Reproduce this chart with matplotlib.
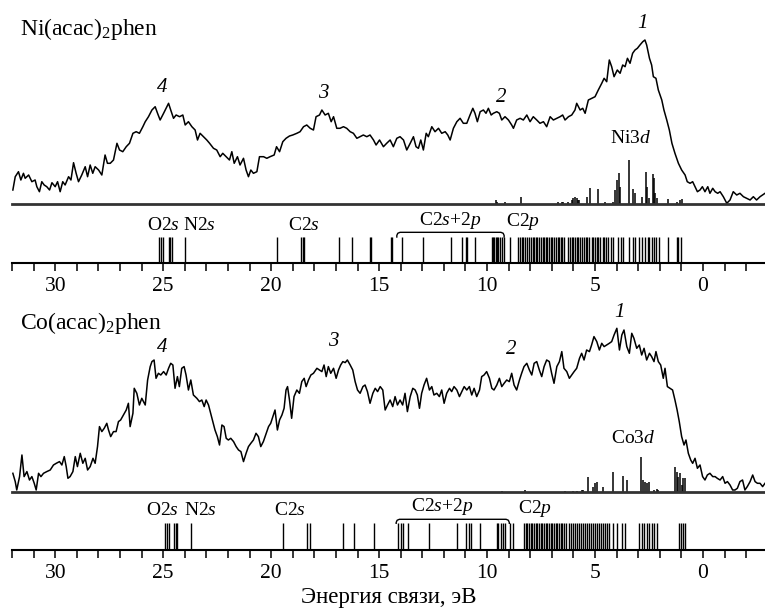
import matplotlib
matplotlib.use('Agg')
import matplotlib.pyplot as plt
from matplotlib.ticker import MultipleLocator

plt.rcParams['font.family'] = ['Liberation Serif', 'DejaVu Serif']
plt.rcParams['mathtext.fontset'] = 'custom'
plt.rcParams['mathtext.rm'] = 'Liberation Serif'
plt.rcParams['mathtext.it'] = 'Liberation Serif:italic'

# ---------------- data (binding energy, eV ; intensity, arb. units) ----------------
ni_E = [31.96, 31.85, 31.70, 31.59, 31.47, 31.39, 31.23, 31.08, 30.93, 30.85,
        30.73, 30.62, 30.51, 30.39, 30.26, 30.15, 30.00, 29.89, 29.77, 29.65,
        29.54, 29.38, 29.27, 29.15, 29.03, 28.92, 28.77, 28.61, 28.50, 28.38,
        28.26, 28.15, 27.99, 27.84, 27.69, 27.58, 27.45, 27.30, 27.14, 27.02,
        26.87, 26.71, 26.56, 26.40, 26.25, 26.10, 25.94, 25.83, 25.68, 25.52,
        25.37, 25.26, 25.14, 24.98, 24.83, 24.75, 24.65, 24.52, 24.40, 24.24,
        24.09, 23.98, 23.83, 23.67, 23.52, 23.41, 23.29, 23.13, 22.98, 22.85,
        22.67, 22.52, 22.36, 22.24, 22.08, 21.93, 21.82, 21.71, 21.56, 21.44,
        21.28, 21.16, 21.05, 20.94, 20.82, 20.66, 20.54, 20.35, 20.20, 20.05,
        19.86, 19.75, 19.61, 19.46, 19.31, 19.15, 19.00, 18.81, 18.66, 18.50,
        18.35, 18.19, 18.04, 17.92, 17.76, 17.65, 17.50, 17.35, 17.22, 17.11,
        16.96, 16.81, 16.65, 16.50, 16.34, 16.19, 16.03, 15.88, 15.73, 15.57,
        15.42, 15.26, 15.14, 14.98,
        14.80, 14.65, 14.49, 14.34, 14.18, 14.03, 13.87, 13.72, 13.56, 13.41,
        13.29, 13.18, 13.07, 12.95, 12.82, 12.72, 12.56, 12.41, 12.25, 12.10,
        11.94, 11.82, 11.71, 11.56, 11.40, 11.25, 11.10, 10.94, 10.79, 10.66,
        10.56, 10.45, 10.32, 10.17, 10.05, 9.94, 9.81, 9.71, 9.55, 9.43,
        9.32, 9.17, 9.01, 8.86, 8.78, 8.63, 8.47, 8.32, 8.16, 8.01,
        7.86, 7.70, 7.55, 7.39, 7.24, 7.08, 6.93, 6.77, 6.62, 6.50,
        6.39, 6.23, 6.08, 5.93, 5.85, 5.69, 5.57, 5.46, 5.31, 5.15,
        5.00, 4.85, 4.69, 4.58, 4.46, 4.34, 4.23, 4.12, 3.97, 3.84,
        3.72, 3.61, 3.50, 3.38, 3.26, 3.15, 3.04, 2.92, 2.79, 2.69,
        2.61, 2.48, 2.38, 2.30, 2.18, 2.07, 1.91, 1.81, 1.68, 1.56,
        1.44, 1.30, 1.14, 0.99, 0.83, 0.73, 0.60, 0.48, 0.37, 0.26,
        0.14, 0.03, -0.09, -0.22, -0.32, -0.45, -0.56, -0.68, -0.79, -0.94,
        -1.10, -1.25, -1.40, -1.56, -1.71, -1.87, -2.02, -2.18, -2.33, -2.48,
        -2.64, -2.87]
ni_I = [14, 27.3, 32.3, 24, 30.7, 25.7, 29, 22.3, 24, 17.3,
        12.3, 22.3, 19, 17.3, 14, 21.3, 17.3, 22.3, 12.3, 22.3,
        19, 27.3, 24, 41.3, 30.7, 22.3, 29, 37.3, 27.3, 39,
        30.7, 37.3, 34, 29, 49, 40.7, 40.7, 44, 60.7, 54,
        52.3, 57.3, 60.7, 70.7, 72.3, 70.7, 77.3, 82.3, 87.3, 94,
        97.3, 90.7, 84, 90.7, 97.3, 100.7, 94, 85.7, 89, 87.3,
        89, 79, 82.3, 77.3, 74, 64, 70.7, 67.3, 64, 60.7,
        55.7, 54, 47.3, 50.7, 47.3, 44, 52.3, 40.7, 47.3, 39,
        45.7, 34, 27.3, 34, 30.7, 32.3, 47.3, 47.3, 45.7, 47.3,
        49, 57.3, 52.3, 62.3, 65.7, 68, 69, 70.7, 72.3, 77.3,
        79, 75.7, 74, 87.3, 89, 94, 89, 90.7, 82.3, 87.3,
        75.7, 75.7, 77.3, 75.7, 72.3, 70.7, 65.7, 67.3, 69, 67.3,
        69, 64, 59, 64,
        57.3, 60.7, 64, 57.3, 65.7, 67.3, 64, 54, 60.7, 67.3,
        57.3, 55.7, 64, 54, 70.7, 67.3, 77.3, 72.3, 75.7, 70.7,
        72.3, 69, 64, 75.7, 82.3, 85.7, 80.7, 80.7, 89, 95.7,
        90.7, 82.3, 92.3, 94, 90.7, 95.7, 89, 90.7, 92.3, 90.7,
        84, 87.3, 84, 79, 75.7, 84, 85.7, 84, 89, 82.3,
        87.3, 84, 80.7, 82.3, 77.3, 87.3, 84, 85.7, 87.3, 89,
        84, 87.3, 89, 94, 100.7, 94, 95.7, 90.7, 104, 105.7,
        107.3, 114, 120.7, 125.7, 122.3, 144, 137.3, 127.3, 134, 130.7,
        139, 137.3, 145.7, 140.7, 150.7, 154, 155.7, 159, 162.3, 164,
        159, 145.7, 139, 127.3, 125.7, 114, 104, 94, 84, 74,
        60.7, 50.7, 40.7, 34, 29, 22.3, 20.7, 22.3, 17.3, 12.3,
        14, 17.3, 12.3, 17.3, 10.7, 15.7, 12.3, 10.7, 12.3, 7.3,
        0.7, 4, 12.3, 9, 10.7, 7.3, 5.7, 4, 7.3, 4,
        7.3, 10.7]

co_E = [31.96, 31.85, 31.78, 31.65, 31.54, 31.44, 31.31, 31.19, 31.08, 30.97,
        30.88, 30.77, 30.66, 30.54, 30.39, 30.23, 30.08, 29.95, 29.80, 29.69,
        29.58, 29.49, 29.41, 29.31, 29.18, 29.07, 28.97, 28.84, 28.72, 28.61,
        28.50, 28.38, 28.25, 28.15, 28.04, 27.95, 27.84, 27.73, 27.61, 27.53,
        27.43, 27.30, 27.18, 27.07, 26.97, 26.84, 26.71, 26.61, 26.53, 26.40,
        26.34, 26.22, 26.10, 25.99, 25.83, 25.72, 25.60, 25.52, 25.42, 25.33,
        25.22, 25.11, 24.98, 24.86, 24.75, 24.65, 24.55, 24.45, 24.34, 24.25,
        24.14, 24.03, 23.94, 23.83, 23.72, 23.60, 23.44, 23.32, 23.21, 23.10,
        23.01, 22.90, 22.82, 22.70, 22.60, 22.49, 22.39, 22.28, 22.18, 22.08,
        21.98, 21.87, 21.74, 21.62, 21.51, 21.40, 21.28, 21.16, 21.05, 20.94,
        20.82, 20.70, 20.59, 20.48, 20.36, 20.23, 20.12, 20.02, 19.92, 19.82,
        19.71, 19.61, 19.50, 19.40, 19.31, 19.24, 19.15, 19.05, 18.94, 18.81,
        18.69, 18.58, 18.47, 18.38, 18.27, 18.16, 18.04, 17.88, 17.76, 17.65,
        17.55, 17.45, 17.35, 17.24, 17.11, 16.99, 16.88, 16.78, 16.68, 16.57,
        16.47, 16.34, 16.22, 16.11, 16.00, 15.88, 15.75, 15.65, 15.54, 15.42,
        15.29, 15.18, 15.07, 14.95,
        14.83, 14.72, 14.61, 14.49, 14.37, 14.26, 14.15, 14.03, 13.91, 13.80,
        13.69, 13.56, 13.44, 13.33, 13.23, 13.13, 13.03, 12.92, 12.80, 12.67,
        12.56, 12.46, 12.33, 12.21, 12.10, 11.99, 11.87, 11.74, 11.64, 11.53,
        11.40, 11.28, 11.17, 11.06, 10.94, 10.82, 10.71, 10.60, 10.48, 10.35,
        10.25, 10.14, 10.02, 9.89, 9.78, 9.68, 9.55, 9.43, 9.32, 9.21,
        9.09, 8.97, 8.86, 8.75, 8.63, 8.50, 8.40, 8.29, 8.16, 8.04,
        7.93, 7.82, 7.70, 7.58, 7.47, 7.36, 7.24, 7.12, 7.01, 6.90,
        6.77, 6.65, 6.54, 6.44, 6.31, 6.19, 6.08, 5.97, 5.85, 5.72,
        5.62, 5.51, 5.39, 5.26, 5.16, 5.05, 4.92, 4.80, 4.69, 4.58,
        4.46, 4.34, 4.23, 4.12, 3.99, 3.87, 3.76, 3.66, 3.53, 3.41,
        3.30, 3.20, 3.07, 2.95, 2.84, 2.73, 2.61, 2.48, 2.38, 2.27,
        2.18, 2.07, 1.96, 1.84, 1.76, 1.65, 1.53, 1.41, 1.30, 1.20,
        1.10, 0.99, 0.88, 0.79, 0.68, 0.57, 0.48, 0.37, 0.26, 0.14,
        0.02, -0.09, -0.20, -0.32, -0.45, -0.56, -0.66, -0.79, -0.91, -1.02,
        -1.13, -1.25, -1.37, -1.48, -1.59, -1.71, -1.83, -1.94, -2.05, -2.18,
        -2.30, -2.41, -2.52, -2.64, -2.76, -2.87]
co_I = [19, 10.7, 2.3, 15.7, 37.3, 15.7, 20.7, 12.3, 15.7, 9,
        2.3, 19, 15.7, 19, 20.7, 22.3, 27.3, 29, 30.7, 27.3,
        35.7, 25.7, 14, 15.7, 20.7, 35.7, 25.7, 39, 29, 34,
        22.3, 25.7, 34, 29, 45.7, 65.7, 60.7, 64, 69, 62.3,
        55.7, 60.7, 60.7, 70.7, 72.3, 77.3, 82.3, 89, 65.7, 79,
        104, 99, 87.3, 94, 87.3, 112.3, 125.7, 130.7, 132.3, 114,
        119, 117.3, 120.7, 117.3, 124, 129, 127.3, 104, 115.7, 105.7,
        124, 125.7, 117.3, 102.3, 112.3, 97.3, 94, 90.7, 92.3, 85.7,
        92.3, 87.3, 80.7, 70.7, 62.3, 55.7, 47.3, 67.3, 65.7, 54,
        52.3, 54, 50.7, 45.7, 42.3, 40.7, 30.7, 39, 45.7, 49,
        52.3, 59, 55.7, 45.7, 50.7, 59, 65.7, 69, 75.7, 82.3,
        62.3, 72.3, 77.3, 84, 102.3, 105.7, 92.3, 74, 95.7, 102.3,
        99, 110.7, 114, 105.7, 112.3, 117.3, 119, 124, 122.3, 120.7,
        127.3, 115.7, 125.7, 119, 124, 114, 122.3, 127.3, 130.7, 129.7,
        132.3, 127.3, 122.3, 110.7, 102.3, 99, 105.7, 107.3, 100.7, 89,
        99, 104, 100.7, 105.7,
        102.3, 82.3, 87.3, 92.3, 85.7, 95.7, 87.3, 92.3, 87.3, 99,
        80.7, 95.7, 104, 102.3, 97.3, 84, 99, 107.3, 114, 102.3,
        105.7, 97.3, 99, 95.7, 102.3, 89, 99, 104, 100.7, 105.7,
        102.3, 95.7, 100.7, 105.7, 102.3, 105.7, 97.3, 104, 95.7, 102.3,
        115.7, 117.3, 120.7, 114, 104, 102.3, 107.3, 114, 105.7, 109,
        112.3, 110.7, 119, 107.3, 102.3, 112.3, 119, 125.7, 129, 122.3,
        117.3, 129, 130.7, 122.3, 115.7, 125.7, 132.3, 130.7, 119, 109,
        125.7, 130.7, 140.7, 124, 120.7, 114, 117.3, 120.7, 124, 134,
        139, 132.3, 142.3, 140.7, 147.3, 155.7, 150.7, 142.3, 149, 145.7,
        147.3, 149, 150.7, 157.3, 164, 142.3, 157.3, 162.3, 145.7, 139,
        159, 154, 144, 147.3, 137.3, 144, 132.3, 139, 135.7, 130.7,
        140.7, 130.7, 127.3, 114, 124, 105.7, 104, 102.3, 92.3, 82.3,
        70.7, 55.7, 47.3, 52.3, 39, 32.3, 29, 34, 24, 27.3,
        15.7, 12.3, 17.3, 19, 15.7, 15.7, 14, 12.3, 15.7, 9,
        10.7, 7.3, 2.3, 2.3, 4, 10.7, 12.3, 2.3, 5.7, 10.7,
        17.3, 10.7, 9, 9, 5.7, 9]

# metal 3d partial contributions (stick spectra)
ni3d_E = [9.58, 9.52, 9.17, 8.44, 6.70, 6.54, 6.50, 6.23, 6.08, 6.00,
          5.93, 5.85, 5.77, 5.73, 5.39, 5.23, 4.85, 4.54, 4.15, 4.07,
          3.97, 3.87, 3.84, 3.43, 3.23, 3.15, 2.84, 2.64, 2.58, 2.48,
          2.33, 2.27, 2.22, 2.14, 1.61, 1.22, 1.06, 0.99]
ni3d_H = [4, 2.3, 2.3, 6.7, 1.7, 1.7, 1.7, 2.3, 4, 5.7,
          7.3, 5.7, 4, 4, 7.3, 15.7, 14.7, 2.3, 2.3, 14,
          24, 30.7, 17.3, 44, 14.7, 10.7, 7.3, 32.3, 17.3, 5.7,
          30, 25.7, 10.7, 5.7, 5, 2.3, 4, 4.7]
co3d_E = [9.32, 8.24, 6.39, 6.00, 5.85, 5.62, 5.54, 5.31, 5.08, 5.00,
          4.92, 4.64, 4.15, 3.69, 3.53, 2.87, 2.76, 2.69, 2.61, 2.48,
          2.27, 2.14, 2.07, 1.30, 1.22, 1.14, 1.06, 0.99, 0.91, 0.83]
co3d_H = [1.3, 2.3, 1.3, 1.3, 1.7, 2.3, 2.3, 15.7, 5, 9,
          10.7, 5.7, 20.7, 16.3, 12.3, 35, 12.3, 10.7, 9, 10.7,
          2.3, 3, 2.3, 25, 20.7, 15.7, 19.7, 7.3, 14, 14]

# calculated one-electron levels
ni_levels = [25.17, 25.11, 25.03, 24.75, 24.68, 24.60, 24.01, 19.71, 18.61, 18.53,
             18.46, 16.88, 16.27, 15.42, 15.37, 14.46, 14.41, 13.95, 12.95, 11.67,
             11.17, 10.97, 10.91, 10.56, 9.78, 9.74, 9.68, 9.61, 9.55, 9.48,
             9.40, 9.32, 9.21, 8.94, 8.55, 8.47, 8.39, 8.32, 8.24, 8.16,
             8.06, 7.98, 7.89, 7.82, 7.75, 7.67, 7.58, 7.50, 7.42, 7.36,
             7.28, 7.21, 7.13, 7.05, 6.98, 6.90, 6.81, 6.73, 6.65, 6.59,
             6.51, 6.44, 6.23, 6.16, 6.08, 6.00, 5.93, 5.85, 5.77, 5.69,
             5.62, 5.51, 5.42, 5.36, 5.26, 5.15, 5.08, 5.00, 4.92, 4.85,
             4.77, 4.64, 4.58, 4.49, 4.38, 4.27, 4.18, 3.92, 3.81, 3.72,
             3.41, 3.26, 3.15, 2.95, 2.84, 2.69, 2.56, 2.48, 2.38, 2.27,
             2.18, 2.05, 1.61, 1.22, 1.14, 1.03]
co_levels = [24.91, 24.83, 24.72, 24.49, 24.41, 24.37, 23.72, 19.46, 18.32, 18.19,
             16.68, 16.14, 15.23, 14.11, 14.00, 13.90, 13.64, 12.67, 11.40, 10.97,
             10.86, 10.76, 10.32, 9.55, 9.48, 9.37, 9.27, 9.17, 8.94, 8.78,
             8.29, 8.21, 8.13, 8.06, 7.98, 7.90, 7.82, 7.75, 7.67, 7.59,
             7.52, 7.44, 7.36, 7.28, 7.21, 7.13, 7.05, 6.98, 6.90, 6.82,
             6.74, 6.67, 6.59, 6.51, 6.44, 6.36, 6.19, 6.10, 6.00, 5.91,
             5.82, 5.73, 5.63, 5.54, 5.45, 5.36, 5.26, 5.17, 5.08, 4.98,
             4.89, 4.80, 4.71, 4.61, 4.52, 4.43, 4.34, 4.15, 3.97, 3.77,
             3.61, 2.95, 2.84, 2.73, 2.61, 2.48, 2.38, 2.27, 2.14, 1.11,
             1.02, 0.91, 0.83]

titles = ["Ni(acac)$_2$phen", "Co(acac)$_2$phen"]
metal_labels = ["Ni3$d$", "Co3$d$"]
peak_names = ["1", "2", "3", "4"]
x_ticks = [30, 25, 20, 15, 10, 5, 0]
x_label = "Энергия связи, эВ"

# ---------------- layout ----------------
W, H = 765, 610
fig = plt.figure(figsize=(W / 100, H / 100), dpi=100)


def box(x0, y_top, x1, y_bot):
    return [x0 / W, 1 - y_bot / H, (x1 - x0) / W, (y_bot - y_top) / H]


XLIM = (32.0, -2.87)

panels = [
    dict(E=ni_E, I=ni_I, sE=ni3d_E, sH=ni3d_H, lev=ni_levels,
         spec=(12, 20, 765, 204), strip=(12, 237, 765, 263),
         title_xy=(20, 35), metal_pos=(3.38, 66),
         peaks=[(2.78, 181), (9.35, 107), (17.59, 111), (25.05, 117)],
         lab_s=[(24.99, 1.46), (23.33, 1.46), (18.5, 1.46)],
         lab_c=[(11.71, 1.65), (8.32, 1.59)],
         brk=(14.18, 9.21, 1.18)),
    dict(E=co_E, I=co_I, sE=co3d_E, sH=co3d_H, lev=co_levels,
         spec=(12, 300, 765, 492.3), strip=(12, 523.3, 765, 550),
         title_xy=(20, 329), metal_pos=(3.22, 54),
         peaks=[(3.87, 179.6), (8.86, 143), (17.11, 150.6), (25.03, 145)],
         lab_s=[(25.02, 1.47), (23.29, 1.47), (19.15, 1.47)],
         lab_c=[(12.10, 1.62), (7.78, 1.56)],
         brk=(14.21, 8.97, 1.15)),
]

for k, p in enumerate(panels):
    x0, yt, x1, yb = p['spec']
    ax = fig.add_axes(box(*p['spec']))
    ax.plot(p['E'], p['I'], color='black', lw=1.1)
    ax.vlines(p['sE'], 0, p['sH'], color='black', lw=1.1)
    ax.set_xlim(*XLIM)
    ax.set_ylim(0, yb - yt)
    for s in ['top', 'left', 'right']:
        ax.spines[s].set_visible(False)
    ax.spines['bottom'].set_color('#333333')
    ax.spines['bottom'].set_linewidth(2.0)
    ax.set_xticks([])
    ax.set_yticks([])
    ax.patch.set_alpha(0)
    for name, (pe, pi) in zip(peak_names, p['peaks']):
        ax.text(pe, pi, name, style='italic', fontsize=15,
                ha='center', va='center')
    ax.text(p['metal_pos'][0], p['metal_pos'][1], metal_labels[k],
            fontsize=14, ha='center', va='center')
    fig.text(p['title_xy'][0] / W, 1 - p['title_xy'][1] / H, titles[k],
             fontsize=17, ha='left', va='baseline')

    # strip with calculated levels
    sx = fig.add_axes(box(*p['strip']))
    sx.vlines(p['lev'], 0, 1, color='black', lw=1.0)
    sx.set_xlim(*XLIM)
    sx.set_ylim(0, 1)
    for s in ['top', 'left', 'right']:
        sx.spines[s].set_visible(False)
    sx.spines['bottom'].set_linewidth(1.5)
    sx.set_yticks([])
    sx.set_xticks(x_ticks)
    sx.xaxis.set_minor_locator(MultipleLocator(1))
    sx.tick_params(axis='x', which='both', direction='out', length=5.5,
                   width=1.1, labelsize=15.5, pad=4.5)
    sx.patch.set_alpha(0)
    tr = sx.get_xaxis_transform()
    for txt, (le, ly) in zip(["O2$s$", "N2$s$", "C2$s$"], p['lab_s']):
        sx.text(le, ly, txt, transform=tr, fontsize=14, ha='center',
                va='center', clip_on=False)
    for txt, (le, ly) in zip(["C2$s$+2$p$", "C2$p$"], p['lab_c']):
        sx.text(le, ly, txt, transform=tr, fontsize=14, ha='center',
                va='center', clip_on=False)
    bl, br, bt = p['brk']
    rx, ry = 0.15, 0.12
    bx = [bl, bl, bl - 0.3 * rx, bl - rx, br + rx, br + 0.3 * rx, br, br]
    by = [1.0, bt - ry, bt - 0.3 * ry, bt, bt, bt - 0.3 * ry, bt - ry, 1.0]
    sx.plot(bx, by, transform=tr, color='black', lw=1.0, clip_on=False)
    if k == 1:
        sx.set_xlabel(x_label, fontsize=16.5, labelpad=3)

fig.savefig('out.png', dpi=100)
